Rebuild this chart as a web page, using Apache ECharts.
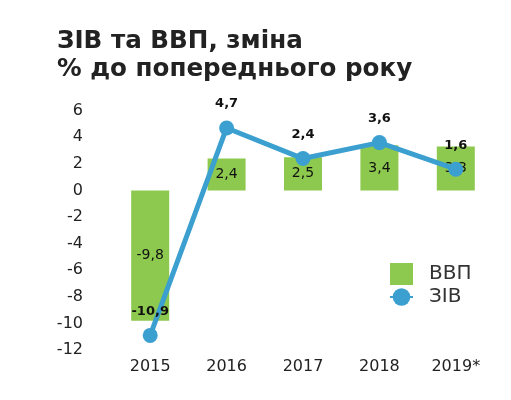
<!DOCTYPE html>
<html>
<head>
<meta charset="utf-8">
<script src="https://cdn.jsdelivr.net/npm/echarts@6/dist/echarts.min.js"></script>
<style>
html,body{margin:0;padding:0;background:#fff;}
#c{width:511px;height:400px;}
</style>
</head>
<body>
<div id="c"></div>
<script>
const categories = ['2015', '2016', '2017', '2018', '2019*'];
const gdp = [-9.8, 2.4, 2.5, 3.4, 3.3];
const fdi = [-10.9, 4.7, 2.4, 3.6, 1.6];
const yTicks = [-12, 6, 2];

const F = 'DejaVu Sans';
const fmt = v => String(v).replace('.', ',');
const chart = echarts.init(document.getElementById('c'), null, {renderer: 'canvas'});
chart.setOption({
  animation: false,
  backgroundColor: '#fff',
  title: {
    text: 'ЗІВ та ВВП, зміна\n% до попереднього року',
    left: 57, top: 28, padding: 0,
    textStyle: {fontFamily: F, fontWeight: 'bold', fontSize: 24.6, lineHeight: 28, color: '#222'}
  },
  legend: {
    orient: 'vertical', left: 389, top: 263, padding: 0,
    itemWidth: 23, itemHeight: 22, itemGap: 2,
    textStyle: {fontFamily: F, fontSize: 20, color: '#333', padding: [0, 0, 0, 11]},
    data: [{name: 'ВВП', icon: 'rect'}, {name: 'ЗІВ'}]
  },
  grid: {left: 112, right: 17, top: 110.7, bottom: 50},
  xAxis: {
    type: 'category', data: categories,
    axisLine: {show: false}, axisTick: {show: false},
    axisLabel: {fontFamily: F, fontSize: 16, color: '#222', margin: 9}
  },
  yAxis: {
    type: 'value', min: yTicks[0], max: yTicks[1], interval: yTicks[2],
    splitLine: {show: false}, axisLine: {show: false}, axisTick: {show: false},
    axisLabel: {fontFamily: F, fontSize: 16, color: '#222', margin: 29}
  },
  series: [
    {
      name: 'ВВП', type: 'bar', data: gdp, barWidth: 38,
      itemStyle: {color: '#8dc94e'},
      label: {show: true, position: 'inside', formatter: p => fmt(p.value),
        fontFamily: F, fontSize: 14, color: '#111'}
    },
    {
      name: 'ЗІВ', type: 'line', data: fdi, symbol: 'circle', symbolSize: 15,
      lineStyle: {color: '#3b9fcf', width: 5}, itemStyle: {color: '#3b9fcf'},
      label: {show: true, position: 'top', distance: 10, formatter: p => fmt(p.value),
        fontFamily: F, fontSize: 13, fontWeight: 'bold', color: '#111'}
    }
  ]
});
</script>
</body>
</html>
